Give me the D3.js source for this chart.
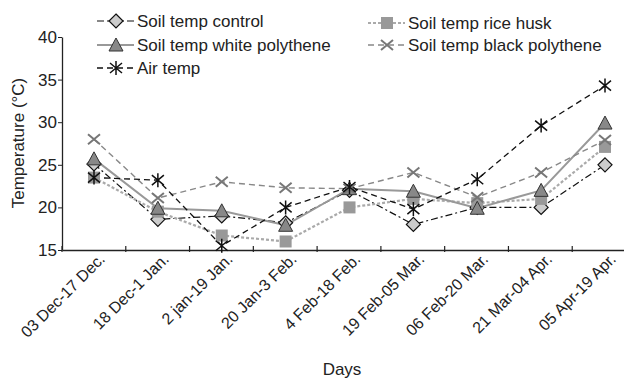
<!DOCTYPE html>
<html>
<head>
<meta charset="utf-8">
<script src="https://cdn.jsdelivr.net/npm/d3@7"></script>
<style>
  body { margin: 0; background: #fff; }
  svg text { font-family: "Liberation Sans", Arial, sans-serif; fill: #222; }
</style>
</head>
<body>
<div id="chart"></div>
<script>
var periods = ["03 Dec-17 Dec.", "18 Dec-1 Jan.", "2 jan-19 Jan.", "20 Jan-3 Feb.", "4 Feb-18 Feb.",
  "19 Feb-05 Mar.", "06 Feb-20 Mar.", "21 Mar-04 Apr.", "05 Apr-19 Apr."];
var yTicks = [15, 20, 25, 30, 35, 40];

var soilControl = [25.1, 18.6, 19.0, 18.2, 22.0, 18.0, 20.0, 20.0, 25.0];
var soilWhite   = [25.7, 19.9, 19.6, 17.9, 22.2, 21.9, 19.9, 22.0, 29.9];
var soilRice    = [23.5, 19.5, 16.7, 16.0, 20.0, 21.0, 20.5, 21.0, 27.1];
var soilBlack   = [28.0, 21.1, 23.0, 22.3, 22.2, 24.1, 21.2, 24.1, 27.9];
var airTemp     = [23.5, 23.2, 15.5, 20.0, 22.4, 19.8, 23.3, 29.6, 34.3];

var series = [
  {name: "Soil temp control", values: soilControl, stroke: "#111", dash: "7,3,2,3", width: 1.2, marker: "diamond"},
  {name: "Soil temp rice husk", values: soilRice, stroke: "#aaa", dash: "3,2", width: 2.2, marker: "square"},
  {name: "Soil temp white polythene", values: soilWhite, stroke: "#999", dash: null, width: 2, marker: "triangle"},
  {name: "Soil temp black polythene", values: soilBlack, stroke: "#888", dash: "6,4", width: 1.4, marker: "cross"},
  {name: "Air temp", values: airTemp, stroke: "#111", dash: "6,4", width: 1.3, marker: "star"}
];

var W = 624, H = 380;
var svg = d3.select("#chart").append("svg").attr("width", W).attr("height", H);

var x = d3.scalePoint().domain(periods).range([94, 605]);
var xBand = d3.scaleBand().domain(periods).range([62, 636]);
var y = d3.scaleLinear().domain([15, 40]).range([250, 37]);

// axes
var yAxis = svg.append("g").attr("transform", "translate(62,0)")
  .call(d3.axisLeft(y).tickValues(yTicks).tickSize(4).tickSizeOuter(0));
yAxis.select(".domain").attr("stroke", "#222").attr("stroke-width", 1.3);
yAxis.selectAll(".tick line").attr("stroke", "#222");
yAxis.selectAll(".tick text").style("font-size", "17px").attr("x", -5);

var xAxis = svg.append("g").attr("transform", "translate(0,250)")
  .call(d3.axisBottom(xBand).tickSize(0).tickSizeOuter(0));
xAxis.select(".domain").attr("stroke", "#222").attr("stroke-width", 1.3);
xAxis.selectAll(".tick text").remove();
xAxis.selectAll(".tick line").remove();
// tick marks at band boundaries
svg.append("g").selectAll("line").data(periods).enter().append("line")
  .attr("x1", function(d) { return xBand(d); }).attr("x2", function(d) { return xBand(d); })
  .attr("y1", 246).attr("y2", 252).attr("stroke", "#222").attr("stroke-width", 1.2);

svg.append("g").selectAll("text").data(periods).enter().append("text")
  .attr("transform", function(d) { return "translate(" + (x(d) + 12) + ",260) rotate(-45)"; })
  .attr("text-anchor", "end")
  .style("font-size", "16px")
  .text(function(d) { return d; });

svg.append("text").attr("x", 342).attr("y", 375).attr("text-anchor", "middle")
  .style("font-size", "17px").text("Days");
svg.append("text").attr("transform", "translate(24,143) rotate(-90)").attr("text-anchor", "middle")
  .style("font-size", "17px").text("Temperature (°C)");

// markers
function drawMarker(g, type, cx, cy) {
  if (type == "diamond") {
    g.append("path").attr("d", "M" + cx + "," + (cy - 7) + "L" + (cx + 7) + "," + cy + "L" + cx + "," + (cy + 7) + "L" + (cx - 7) + "," + cy + "Z")
      .attr("fill", "#ccc").attr("stroke", "#111").attr("stroke-width", 1.2);
  } else if (type == "square") {
    g.append("rect").attr("x", cx - 6).attr("y", cy - 6).attr("width", 12).attr("height", 12).attr("fill", "#999");
  } else if (type == "triangle") {
    g.append("path").attr("d", "M" + cx + "," + (cy - 7) + "L" + (cx + 7) + "," + (cy + 6) + "L" + (cx - 7) + "," + (cy + 6) + "Z")
      .attr("fill", "#888").attr("stroke", "#333").attr("stroke-width", 1);
  } else if (type == "cross") {
    g.append("path").attr("d", "M" + (cx - 6) + "," + (cy - 5) + "L" + (cx + 6) + "," + (cy + 5) + "M" + (cx - 6) + "," + (cy + 5) + "L" + (cx + 6) + "," + (cy - 5))
      .attr("stroke", "#777").attr("stroke-width", 2);
  } else if (type == "star") {
    g.append("path").attr("d", "M" + (cx - 6) + "," + (cy - 5) + "L" + (cx + 6) + "," + (cy + 5) + "M" + (cx - 6) + "," + (cy + 5) + "L" + (cx + 6) + "," + (cy - 5) + "M" + cx + "," + (cy - 7) + "L" + cx + "," + (cy + 7))
      .attr("stroke", "#111").attr("stroke-width", 1.5);
  }
}

var line = d3.line()
  .x(function(d, i) { return x(periods[i]); })
  .y(function(d) { return y(d); });

var plot = svg.append("g");
series.forEach(function(s) {
  plot.append("path").datum(s.values).attr("d", line)
    .attr("fill", "none").attr("stroke", s.stroke).attr("stroke-width", s.width)
    .attr("stroke-dasharray", s.dash);
});
series.forEach(function(s) {
  var g = plot.append("g");
  s.values.forEach(function(v, i) { drawMarker(g, s.marker, x(periods[i]), y(v)); });
});

// legend
var legendPos = [[97, 21], [368, 23], [97, 45], [368, 45], [97, 68]];
series.forEach(function(s, i) {
  var lx = legendPos[i][0], ly = legendPos[i][1];
  var g = svg.append("g");
  g.append("line").attr("x1", lx).attr("x2", lx + 37).attr("y1", ly).attr("y2", ly)
    .attr("stroke", s.stroke).attr("stroke-width", s.width).attr("stroke-dasharray", s.dash);
  drawMarker(g, s.marker, lx + 19, ly);
  g.append("text").attr("x", lx + 40).attr("y", ly + 6).style("font-size", "17px").text(s.name);
});
</script>
</body>
</html>
